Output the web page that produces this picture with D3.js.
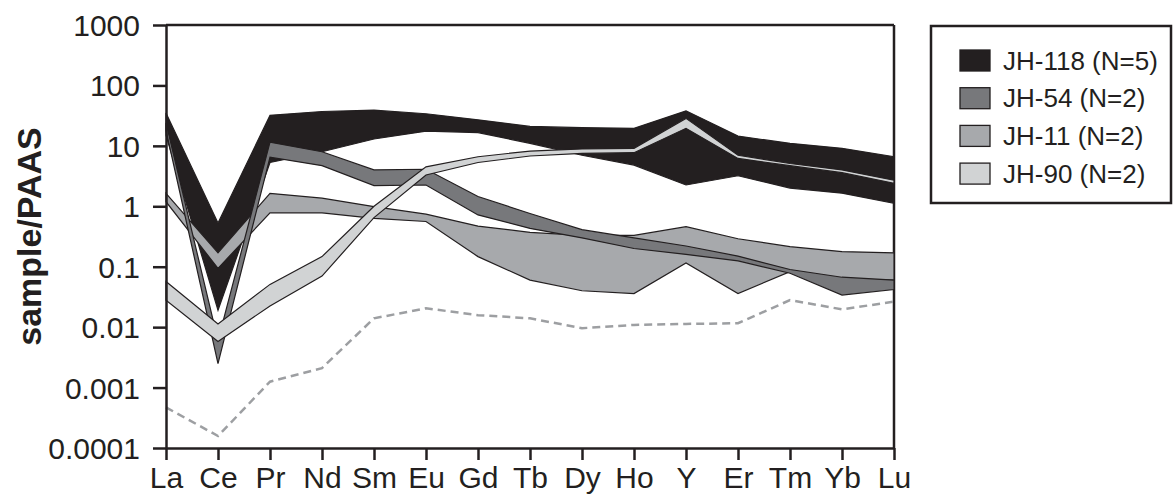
<!DOCTYPE html>
<html lang="en">
<head>
  <meta charset="UTF-8">
  <title>REE patterns normalised to PAAS</title>
  <script src="https://d3js.org/d3.v7.min.js"></script>
  <style>
    body { margin: 0; background: #fff; }
    svg text { font-family: "Liberation Sans", Arial, Helvetica, sans-serif; fill: #231f20; }
    .axis path, .axis line { stroke: #231f20; stroke-width: 2.5px; }
  </style>
</head>
<body>
  <svg id="chart" width="1173" height="494"></svg>
  <script>
    // x categories and y tick labels
    const elements = ["La", "Ce", "Pr", "Nd", "Sm", "Eu", "Gd", "Tb", "Dy", "Ho", "Y", "Er", "Tm", "Yb", "Lu"];
    const yTicks = [0.0001, 0.001, 0.01, 0.1, 1, 10, 100, 1000];
    const yTickLabels = ["0.0001", "0.001", "0.01", "0.1", "1", "10", "100", "1000"];

    // ranges of each sample group (upper / lower envelope)
    const jh118Max = [35, 0.53, 32, 37, 39, 34, 27, 21, 20, 19.5, 38, 14.5, 11, 9.1, 6.6];
    const jh118Min = [15, 0.019, 5.3, 8, 13, 17.5, 16.6, 11, 7.0, 4.8, 2.25, 3.2, 2.0, 1.65, 1.12];
    const jh54Max = [24, 0.006, 11.5, 8.0, 4.0, 4.1, 1.45, 0.76, 0.41, 0.3, 0.22, 0.15, 0.09, 0.067, 0.06];
    const jh54Min = [18, 0.0025, 6.5, 4.7, 2.2, 2.25, 0.72, 0.43, 0.3, 0.2, 0.16, 0.125, 0.078, 0.034, 0.042];
    const jh11Max = [1.64, 0.17, 1.64, 1.36, 0.99, 0.74, 0.47, 0.37, 0.33, 0.33, 0.46, 0.29, 0.215, 0.178, 0.17];
    const jh11Min = [1.19, 0.094, 0.78, 0.78, 0.63, 0.56, 0.147, 0.06, 0.04, 0.036, 0.115, 0.036, 0.083, 0.062, 0.06];
    const jh90Max = [0.057, 0.0113, 0.051, 0.147, 1.0, 4.5, 6.6, 8.2, 8.9, 9.1, 28.5, 7.0, 5.1, 4.0, 2.7];
    const jh90Min = [0.028, 0.0058, 0.0224, 0.070, 0.65, 3.3, 5.3, 6.8, 7.5, 7.7, 19.5, 6.2, 4.7, 3.6, 2.4];
    // dashed reference line
    const refLine = [0.00047, 0.000158, 0.00125, 0.0021, 0.014, 0.0205, 0.0158, 0.014, 0.0096, 0.0109, 0.0113, 0.0116, 0.028, 0.0197, 0.0264];

    const groups = [
      { name: "JH-118 (N=5)", max: jh118Max, min: jh118Min, fill: "#231f20" },
      { name: "JH-54 (N=2)", max: jh54Max, min: jh54Min, fill: "#77787b" },
      { name: "JH-11 (N=2)", max: jh11Max, min: jh11Min, fill: "#a7a9ac" },
      { name: "JH-90 (N=2)", max: jh90Max, min: jh90Min, fill: "#d1d3d4" }
    ];
    // drawing order: JH-11 under JH-54, JH-90 on top
    const drawOrder = [0, 2, 1, 3];

    const svg = d3.select("#chart");
    const plot = { left: 166, right: 894, top: 25, bottom: 448 };

    const x = d3.scalePoint().domain(elements).range([plot.left, plot.right]);
    const y = d3.scaleLog().domain([0.0001, 1000]).range([plot.bottom, plot.top]);

    // frame: top and right lines
    svg.append("line")
      .attr("x1", plot.left).attr("x2", plot.right)
      .attr("y1", plot.top).attr("y2", plot.top)
      .attr("stroke", "#231f20").attr("stroke-width", 2.5);
    svg.append("line")
      .attr("x1", plot.right).attr("x2", plot.right)
      .attr("y1", plot.top).attr("y2", plot.bottom)
      .attr("stroke", "#231f20").attr("stroke-width", 2.5);

    const area = d3.area()
      .x((d, i) => x(elements[i]))
      .y0(d => y(d[1]))
      .y1(d => y(d[0]));

    drawOrder.forEach(k => {
      const g = groups[k];
      const pts = elements.map((e, i) => [g.max[i], g.min[i]]);
      svg.append("path")
        .datum(pts)
        .attr("d", area)
        .attr("fill", g.fill)
        .attr("stroke", "#231f20")
        .attr("stroke-width", 1.2)
        .attr("stroke-linejoin", "miter");
    });

    const line = d3.line()
      .x((d, i) => x(elements[i]))
      .y(d => y(d));

    svg.append("path")
      .datum(refLine)
      .attr("d", line)
      .attr("fill", "none")
      .attr("stroke", "#9d9fa2")
      .attr("stroke-width", 2.5)
      .attr("stroke-dasharray", "8,5");

    // axes
    svg.append("g")
      .attr("class", "axis")
      .attr("transform", `translate(${plot.left},0)`)
      .call(d3.axisLeft(y)
        .tickValues(yTicks)
        .tickFormat((d, i) => yTickLabels[i])
        .tickSize(13)
        .tickSizeOuter(0)
        .tickPadding(13))
      .call(g => g.selectAll("text").attr("font-size", 30).attr("dy", "0.35em"));

    svg.append("g")
      .attr("class", "axis")
      .attr("transform", `translate(0,${plot.bottom})`)
      .call(d3.axisBottom(x)
        .tickSize(12)
        .tickSizeOuter(0)
        .tickPadding(7))
      .call(g => g.selectAll("text").attr("font-size", 30));

    svg.selectAll(".axis text").style("font-family", "\"Liberation Sans\", Arial, sans-serif").attr("fill", "#231f20");

    // y axis title
    svg.append("text")
      .attr("transform", `translate(41,${(plot.top + plot.bottom) / 2}) rotate(-90)`)
      .attr("text-anchor", "middle")
      .attr("font-size", 34)
      .attr("font-weight", "bold")
      .text("sample/PAAS");

    // legend
    const legend = svg.append("g");
    legend.append("rect")
      .attr("x", 931).attr("y", 26)
      .attr("width", 240).attr("height", 177)
      .attr("fill", "#fff")
      .attr("stroke", "#231f20")
      .attr("stroke-width", 2.5);

    groups.forEach((g, i) => {
      const cy = 60.5 + i * 37.7;
      legend.append("rect")
        .attr("x", 960).attr("y", cy - 10.5)
        .attr("width", 30).attr("height", 21)
        .attr("fill", g.fill)
        .attr("stroke", "#231f20")
        .attr("stroke-width", 1.3);
      legend.append("text")
        .attr("x", 1003).attr("y", cy)
        .attr("dy", "0.35em")
        .attr("font-size", 26)
        .text(g.name);
    });
  </script>
</body>
</html>
